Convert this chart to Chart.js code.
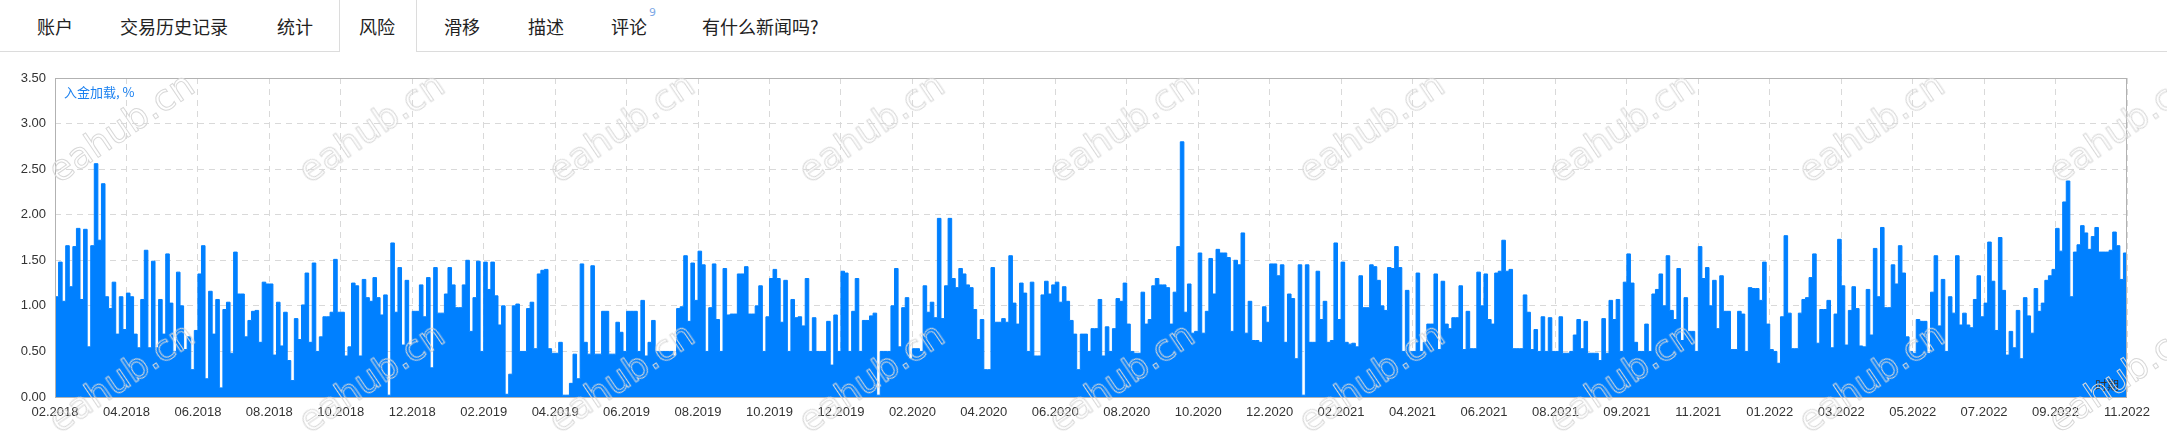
<!DOCTYPE html>
<html>
<head>
<meta charset="utf-8">
<script src="https://cdn.jsdelivr.net/npm/chart.js@4.4.0/dist/chart.umd.min.js"></script>
<style>
  html, body { margin: 0; padding: 0; background: #fff; }
  body { width: 2167px; height: 438px; position: relative; overflow: hidden; font-family: "Noto Sans CJK SC", sans-serif; }
  .hline { position: absolute; top: 51px; height: 1px; background: #dcdcdc; }
  .tab { position: absolute; top: 0; height: 52px; line-height: 52px; font-size: 18px; color: #222; white-space: nowrap; }
  .tab sup { position: absolute; top: -13px; font-size: 11px; color: #7fa9e6; font-family: "DejaVu Sans", sans-serif; }
  .active { position: absolute; left: 339px; top: 0; width: 76px; height: 52px; border-left: 1px solid #dcdcdc; border-right: 1px solid #dcdcdc; background: #fff; }
  #wrap { position: absolute; left: 0; top: 52px; width: 2167px; height: 386px; }
  .note { position: absolute; font-size: 13px; white-space: nowrap; }
  .wm { position: absolute; font-family: "DejaVu Sans", sans-serif; font-size: 36px; color: transparent;
        -webkit-text-stroke: 1px #d8d8d8; transform: translate(-50%, -50%) rotate(-34deg); white-space: nowrap; pointer-events: none; }
</style>
</head>
<body>
<div class="hline" style="left:0;width:339px"></div>
<div class="hline" style="left:417px;width:1750px"></div>
<div class="active"></div>
<div class="tab" style="left:37px">账户</div>
<div class="tab" style="left:120px">交易历史记录</div>
<div class="tab" style="left:277px">统计</div>
<div class="tab" style="left:359px">风险</div>
<div class="tab" style="left:444px">滑移</div>
<div class="tab" style="left:528px">描述</div>
<div class="tab" style="left:611px">评论<sup style="left:38px">9</sup></div>
<div class="tab" style="left:702px">有什么新闻吗?</div>

<div id="wrap"><canvas id="loadChart" width="2167" height="386"></canvas></div>
<div class="note" style="left:64px;top:82px;color:#1a80f0">入金加载, %</div>
<div class="note" style="left:2095px;top:376px;color:#333;font-size:12px">时期</div>
<div id="marks"></div>

<script>
// x-axis labels, one every ~2 months, evenly spaced across the plot
const tickLabels = [
    '02.2018', '04.2018', '06.2018', '08.2018', '10.2018', '12.2018',
    '02.2019', '04.2019', '06.2019', '08.2019', '10.2019', '12.2019',
    '02.2020', '04.2020', '06.2020', '08.2020', '10.2020', '12.2020',
    '02.2021', '04.2021', '06.2021', '08.2021', '09.2021', '11.2021',
    '01.2022', '03.2022', '05.2022', '07.2022', '09.2022', '11.2022'
];
const samplesPerTick = 20;
const yTickStep = 0.5;
const yMax = 3.5;

// deposit load %, 20 readings between each pair of x labels
const loadValues = [
    1.10, 1.48, 1.05, 1.66, 1.21, 1.65, 1.85, 1.07, 1.84, 0.55, 1.66, 2.56, 1.72, 2.34, 1.10, 0.97, 1.26, 0.69, 1.10, 0.74,
    1.14, 1.10, 0.69, 0.54, 1.07, 1.61, 0.54, 1.49, 0.54, 1.07, 0.69, 1.57, 1.03, 0.50, 1.37, 1.00, 0.52, 0.66, 0.30, 0.73,
    1.35, 1.66, 0.20, 1.16, 0.69, 1.07, 0.10, 0.96, 1.04, 0.48, 1.59, 1.13, 1.13, 0.66, 0.84, 0.94, 0.95, 0.60, 1.26, 1.24,
    1.24, 0.46, 1.04, 0.56, 0.93, 0.40, 0.18, 0.86, 0.63, 1.01, 1.36, 0.60, 1.47, 0.50, 0.66, 0.88, 0.88, 0.93, 1.51, 0.93,
    0.93, 0.45, 0.55, 1.25, 1.22, 0.45, 1.29, 1.09, 1.05, 1.31, 1.09, 0.90, 1.12, 0.02, 1.69, 0.93, 1.42, 0.57, 1.28, 0.57,
    0.94, 0.94, 1.23, 0.88, 1.31, 0.32, 1.42, 0.92, 0.92, 1.13, 1.42, 1.23, 0.98, 0.98, 1.23, 1.50, 0.72, 1.09, 1.49, 0.50,
    1.48, 1.18, 1.48, 1.11, 0.79, 1.00, 0.03, 0.25, 1.00, 1.02, 0.50, 0.50, 0.97, 1.04, 0.53, 1.35, 1.39, 1.40, 0.53, 0.48,
    0.48, 0.60, 0.02, 0.02, 0.15, 0.47, 0.20, 1.46, 0.60, 0.47, 1.44, 0.47, 0.47, 0.94, 0.94, 0.47, 0.47, 0.82, 0.71, 0.50,
    0.94, 0.94, 0.94, 0.50, 1.06, 0.45, 0.60, 0.84, 0.50, 0.50, 0.50, 0.50, 0.50, 0.45, 0.97, 0.99, 1.55, 0.83, 1.47, 1.06,
    1.60, 1.45, 0.50, 0.98, 1.46, 0.85, 0.50, 1.41, 0.90, 0.91, 0.91, 1.35, 1.35, 1.43, 0.91, 0.91, 1.00, 1.22, 0.50, 0.88,
    1.30, 1.40, 1.30, 0.82, 1.28, 0.50, 1.07, 0.87, 0.88, 0.78, 1.30, 0.50, 0.87, 0.50, 0.50, 0.50, 0.83, 0.35, 0.90, 0.50,
    1.38, 1.36, 0.50, 0.94, 1.30, 0.50, 0.84, 0.84, 0.89, 0.92, 0.02, 0.50, 0.50, 0.50, 1.00, 1.41, 0.55, 0.98, 1.09, 0.42,
    0.53, 0.53, 0.50, 1.22, 0.93, 1.04, 0.87, 1.96, 0.86, 1.22, 1.96, 1.30, 1.20, 1.41, 1.35, 1.23, 1.20, 0.96, 0.63, 0.85,
    0.30, 0.30, 1.42, 0.82, 0.82, 0.86, 0.82, 1.55, 1.03, 0.80, 1.25, 1.14, 0.50, 1.26, 0.45, 0.45, 1.12, 1.27, 1.13, 1.23,
    1.26, 1.04, 1.21, 1.05, 0.84, 0.69, 0.30, 0.69, 0.69, 0.50, 0.75, 0.75, 1.07, 0.45, 0.77, 0.50, 0.75, 1.08, 1.05, 1.25,
    0.80, 0.50, 0.48, 0.48, 1.15, 0.80, 0.85, 1.22, 1.30, 1.23, 1.23, 1.20, 0.80, 1.15, 1.65, 2.80, 0.93, 1.24, 0.70, 0.72,
    1.58, 0.70, 0.94, 1.52, 1.13, 1.62, 1.58, 1.58, 1.53, 0.72, 1.50, 1.45, 1.80, 0.70, 1.05, 0.62, 0.62, 0.60, 0.99, 0.82,
    1.46, 1.46, 1.33, 1.45, 0.60, 1.13, 1.08, 0.42, 1.45, 0.02, 1.45, 0.60, 0.60, 1.38, 0.85, 1.05, 0.60, 0.62, 1.69, 0.85,
    1.48, 0.60, 0.58, 0.59, 0.55, 1.33, 0.98, 0.98, 1.45, 1.43, 1.28, 1.00, 0.95, 1.42, 1.41, 1.65, 1.42, 0.50, 1.17, 0.50,
    0.50, 1.36, 0.50, 0.60, 0.80, 0.80, 1.35, 0.52, 1.27, 0.80, 0.75, 0.87, 0.87, 1.22, 0.52, 0.94, 0.53, 0.53, 1.37, 1.00,
    1.35, 0.85, 0.80, 1.36, 1.38, 1.72, 1.38, 1.40, 0.53, 0.53, 0.53, 1.12, 0.93, 0.52, 0.74, 0.50, 0.88, 0.50, 0.87, 0.50,
    0.50, 0.88, 0.48, 0.48, 0.50, 0.68, 0.85, 0.53, 0.83, 0.48, 0.48, 0.48, 0.40, 0.86, 0.48, 1.06, 0.85, 1.07, 0.50, 1.26,
    1.57, 1.25, 0.60, 0.50, 0.50, 0.80, 0.50, 1.13, 1.18, 1.35, 1.00, 1.55, 0.95, 0.85, 1.41, 0.62, 1.09, 0.72, 0.72, 0.50,
    1.65, 1.30, 1.42, 1.00, 1.28, 0.75, 1.33, 0.94, 0.94, 0.52, 0.52, 0.94, 0.91, 0.50, 1.20, 1.19, 1.19, 1.06, 1.48, 0.80,
    0.52, 0.50, 0.37, 0.88, 1.77, 0.92, 0.53, 0.53, 0.92, 1.07, 1.09, 1.31, 1.57, 0.59, 0.96, 0.96, 1.06, 0.54, 0.91, 1.73,
    1.22, 0.57, 0.95, 1.21, 0.97, 0.56, 0.55, 1.18, 0.68, 1.63, 1.10, 1.86, 0.98, 0.98, 1.45, 1.24, 1.66, 1.36, 0.66, 0.50,
    0.48, 0.85, 0.83, 0.83, 0.48, 1.15, 1.55, 0.78, 1.29, 0.50, 1.10, 0.92, 1.55, 0.79, 0.92, 0.79, 0.76, 1.07, 1.33, 0.88,
    1.03, 1.70, 1.27, 0.73, 1.75, 1.17, 0.46, 0.72, 0.54, 0.95, 0.42, 1.09, 0.89, 0.70, 1.19, 0.94, 1.03, 1.28, 1.33, 1.40,
    1.85, 1.60, 2.14, 2.37, 1.10, 1.59, 1.67, 1.88, 1.80, 1.62, 1.76, 1.86, 1.59, 1.59, 1.59, 1.61, 1.81, 1.66, 1.29, 1.58,
    0.79
];

// watermark text, two rows across the page
const marks = document.getElementById('marks');
[127, 377].forEach(y => {
    for (let k = 0; k < 9; k++) {
        const d = document.createElement('div');
        d.className = 'wm';
        d.textContent = 'eahub.cn';
        d.style.left = (121 + 250 * k) + 'px';
        d.style.top = y + 'px';
        marks.appendChild(d);
    }
});

const plotBox = {
    id: 'plotBox',
    afterDraw(chart) {
        const { ctx, chartArea: a } = chart;
        ctx.save();
        ctx.strokeStyle = '#b2b2b2';
        ctx.lineWidth = 1;
        ctx.strokeRect(a.left + 0.5, a.top + 0.5, a.right - a.left - 1, a.bottom - a.top);
        ctx.restore();
    }
};

const axisFont = { family: 'Liberation Sans', size: 13 };

new Chart(document.getElementById('loadChart').getContext('2d'), {
    type: 'line',
    data: {
        datasets: [{
            data: loadValues.map((v, i) => ({ x: i, y: v })),
            stepped: true,
            borderColor: '#0080ff',
            borderWidth: 1,
            backgroundColor: '#0080ff',
            fill: 'origin',
            pointRadius: 0
        }]
    },
    options: {
        responsive: false,
        animation: false,
        devicePixelRatio: 1,
        layout: { padding: { top: 26, right: 40, left: 0, bottom: 0 } },
        plugins: { legend: { display: false }, tooltip: { enabled: false } },
        scales: {
            x: {
                type: 'linear',
                min: 0,
                max: (tickLabels.length - 1) * samplesPerTick,
                afterBuildTicks: s => { s.ticks = tickLabels.map((t, k) => ({ value: k * samplesPerTick })); },
                afterFit: s => { s.height = 41; s.paddingLeft = 0; s.paddingRight = 0; },
                ticks: {
                    autoSkip: false,
                    maxRotation: 0,
                    padding: 8,
                    color: '#333',
                    font: axisFont,
                    callback: (v, i) => tickLabels[i]
                },
                grid: { color: '#d9d9d9', drawTicks: false },
                border: { display: false, dash: [6, 5] }
            },
            y: {
                min: 0,
                max: yMax,
                afterFit: s => { s.width = 55; s.paddingTop = 0; s.paddingBottom = 0; },
                ticks: {
                    stepSize: yTickStep,
                    padding: 9,
                    color: '#333',
                    font: axisFont,
                    callback: v => v.toFixed(2)
                },
                grid: { color: '#d9d9d9', drawTicks: false },
                border: { display: false, dash: [6, 5] }
            }
        }
    },
    plugins: [plotBox]
});
</script>
</body>
</html>
